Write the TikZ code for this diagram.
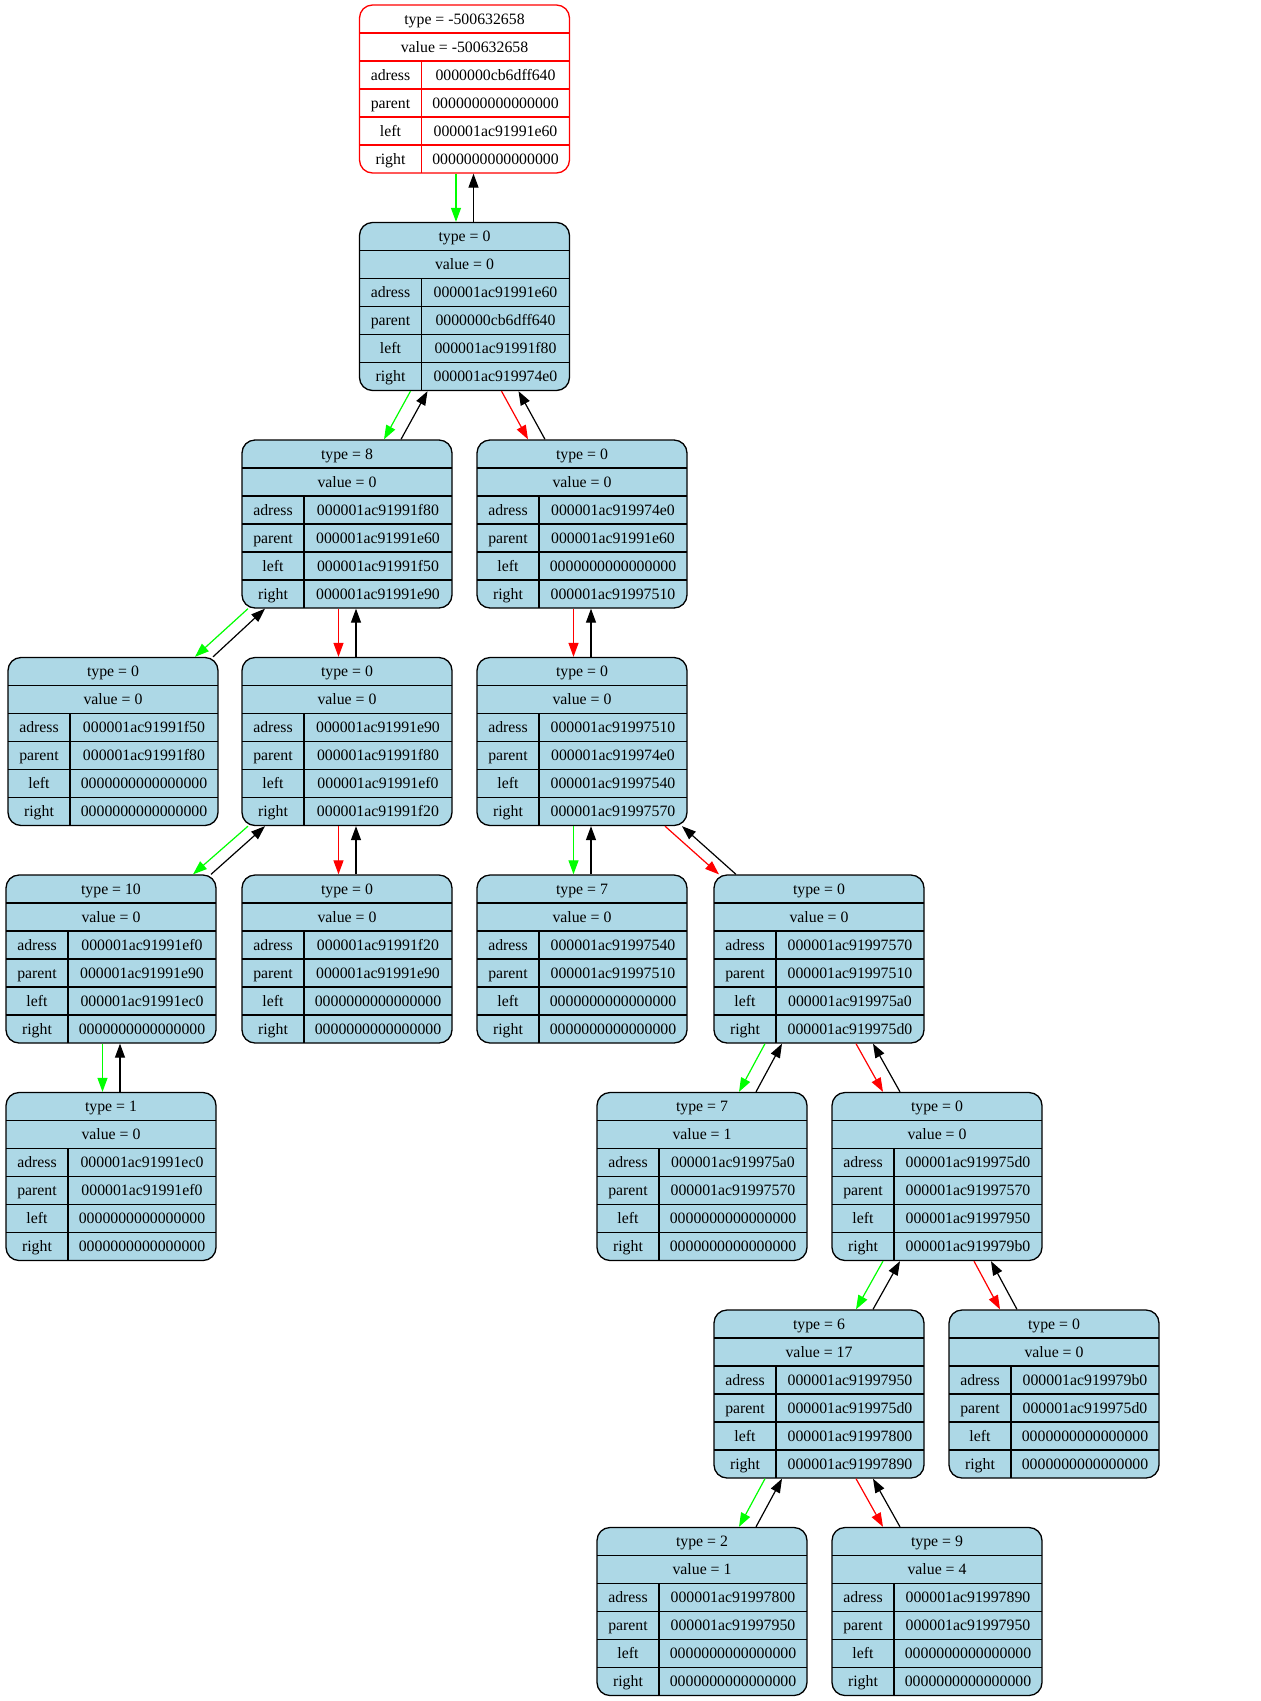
\documentclass[tikz,border=0pt]{standalone}
\usepackage{fontspec}
\setmainfont{Liberation Serif}
\usepackage{array}
\usetikzlibrary{arrows.meta}

\definecolor{lightblue}{HTML}{ADD8E6}

\newcolumntype{L}{>{\centering\arraybackslash}p{62pt}}
\newcolumntype{R}{>{\centering\arraybackslash}p{148pt}}
\newcommand{\rowstrut}{\rule[-9pt]{0pt}{28pt}}
\newcommand{\recordtext}[6]{\begin{tabular}{@{}L@{}R@{}}
\multicolumn{2}{@{}c@{}}{\rowstrut type = #1}\\
\multicolumn{2}{@{}c@{}}{\rowstrut value = #2}\\
\rowstrut adress & #3\\
\rowstrut parent & #4\\
\rowstrut left & #5\\
\rowstrut right & #6
\end{tabular}}
\newcommand{\recordgrid}[1]{%
\foreach \row in {28,56,84,112,140}
  \draw[#1, line width=1.3pt] ([yshift=-\row]path picture bounding box.north west) -- ([yshift=-\row]path picture bounding box.north east);
\draw[#1, line width=1.3pt] ([xshift=62, yshift=-56]path picture bounding box.north west) -- ([xshift=62]path picture bounding box.south west);}

\tikzstyle{record} = [rectangle, 
rounded corners=13pt, 
draw=black, 
fill=lightblue, 
line width=1.3pt, 
inner sep=0pt, 
font=\fontsize{15.8pt}{18pt}\selectfont, 
path picture={\recordgrid{black}}]
\tikzstyle{headrecord} = [record, draw=red, fill=white, path picture={\recordgrid{red}}]
\tikzstyle{leftlink} = [draw=green, line width=1.2pt, -{Triangle[length=14pt, width=10pt]}]
\tikzstyle{rightlink} = [leftlink, draw=red]
\tikzstyle{uplink} = [leftlink, draw=black]

\begin{document}
\begin{tikzpicture}[x=1pt, y=1pt, node distance=217.5pt]
\useasboundingbox (0,0) rectangle (1261,-1701);

\node (head) [headrecord] at (464.5,-89) {\recordtext{-500632658}{-500632658}{0000000cb6dff640}{0000000000000000}{000001ac91991e60}{0000000000000000}};
\node (ne60) [record, below of=head] {\recordtext{0}{0}{000001ac91991e60}{0000000cb6dff640}{000001ac91991f80}{000001ac919974e0}};
\draw[leftlink] ([xshift=-8.5]head.south) to ([xshift=-8.5]ne60.north);
\draw[uplink] ([xshift=9]ne60.north) to ([xshift=9]head.south);

\node (nf80) [record, below of=ne60, xshift=-117.5pt] {\recordtext{8}{0}{000001ac91991f80}{000001ac91991e60}{000001ac91991f50}{000001ac91991e90}};
\draw[leftlink] ([xshift=-54]ne60.south) to ([xshift=37]nf80.north);
\draw[uplink] ([xshift=54]nf80.north) to ([xshift=-37]ne60.south);

\node (n74e0) [record, below of=ne60, xshift=117.5pt] {\recordtext{0}{0}{000001ac919974e0}{000001ac91991e60}{0000000000000000}{000001ac91997510}};
\draw[rightlink] ([xshift=37]ne60.south) to ([xshift=-54]n74e0.north);
\draw[uplink] ([xshift=-37]n74e0.north) to ([xshift=54]ne60.south);

\node (nf50) [record, below of=nf80, xshift=-234pt] {\recordtext{0}{0}{000001ac91991f50}{000001ac91991f80}{0000000000000000}{0000000000000000}};
\draw[leftlink] ([xshift=-99]nf80.south) to ([xshift=82]nf50.north);
\draw[uplink] ([xshift=100]nf50.north) to ([xshift=-82]nf80.south);

\node (ne90) [record, below of=nf80] {\recordtext{0}{0}{000001ac91991e90}{000001ac91991f80}{000001ac91991ef0}{000001ac91991f20}};
\draw[rightlink] ([xshift=-8.5]nf80.south) to ([xshift=-8.5]ne90.north);
\draw[uplink] ([xshift=9]ne90.north) to ([xshift=9]nf80.south);

\node (n7510) [record, below of=n74e0] {\recordtext{0}{0}{000001ac91997510}{000001ac919974e0}{000001ac91997540}{000001ac91997570}};
\draw[rightlink] ([xshift=-8.5]n74e0.south) to ([xshift=-8.5]n7510.north);
\draw[uplink] ([xshift=9]n7510.north) to ([xshift=9]n74e0.south);

\node (nef0) [record, below of=ne90, xshift=-236pt] {\recordtext{10}{0}{000001ac91991ef0}{000001ac91991e90}{000001ac91991ec0}{0000000000000000}};
\draw[leftlink] ([xshift=-99]ne90.south) to ([xshift=82]nef0.north);
\draw[uplink] ([xshift=100]nef0.north) to ([xshift=-82]ne90.south);

\node (nf20) [record, below of=ne90] {\recordtext{0}{0}{000001ac91991f20}{000001ac91991e90}{0000000000000000}{0000000000000000}};
\draw[rightlink] ([xshift=-8.5]ne90.south) to ([xshift=-8.5]nf20.north);
\draw[uplink] ([xshift=9]nf20.north) to ([xshift=9]ne90.south);

\node (n7540) [record, below of=n7510] {\recordtext{7}{0}{000001ac91997540}{000001ac91997510}{0000000000000000}{0000000000000000}};
\draw[leftlink] ([xshift=-8.5]n7510.south) to ([xshift=-8.5]n7540.north);
\draw[uplink] ([xshift=9]n7540.north) to ([xshift=9]n7510.south);

\node (n7570) [record, below of=n7510, xshift=237pt] {\recordtext{0}{0}{000001ac91997570}{000001ac91997510}{000001ac919975a0}{000001ac919975d0}};
\draw[rightlink] ([xshift=83]n7510.south) to ([xshift=-100]n7570.north);
\draw[uplink] ([xshift=-83]n7570.north) to ([xshift=100]n7510.south);

\node (nec0) [record, below of=nef0] {\recordtext{1}{0}{000001ac91991ec0}{000001ac91991ef0}{0000000000000000}{0000000000000000}};
\draw[leftlink] ([xshift=-8.5]nef0.south) to ([xshift=-8.5]nec0.north);
\draw[uplink] ([xshift=9]nec0.north) to ([xshift=9]nef0.south);

\node (n75a0) [record, below of=n7570, xshift=-117pt] {\recordtext{7}{1}{000001ac919975a0}{000001ac91997570}{0000000000000000}{0000000000000000}};
\draw[leftlink] ([xshift=-54]n7570.south) to ([xshift=37]n75a0.north);
\draw[uplink] ([xshift=54]n75a0.north) to ([xshift=-37]n7570.south);

\node (n75d0) [record, below of=n7570, xshift=118pt] {\recordtext{0}{0}{000001ac919975d0}{000001ac91997570}{000001ac91997950}{000001ac919979b0}};
\draw[rightlink] ([xshift=37]n7570.south) to ([xshift=-54]n75d0.north);
\draw[uplink] ([xshift=-37]n75d0.north) to ([xshift=54]n7570.south);

\node (n7950) [record, below of=n75d0, xshift=-118pt] {\recordtext{6}{17}{000001ac91997950}{000001ac919975d0}{000001ac91997800}{000001ac91997890}};
\draw[leftlink] ([xshift=-54]n75d0.south) to ([xshift=37]n7950.north);
\draw[uplink] ([xshift=54]n7950.north) to ([xshift=-37]n75d0.south);

\node (n79b0) [record, below of=n75d0, xshift=117pt] {\recordtext{0}{0}{000001ac919979b0}{000001ac919975d0}{0000000000000000}{0000000000000000}};
\draw[rightlink] ([xshift=37]n75d0.south) to ([xshift=-54]n79b0.north);
\draw[uplink] ([xshift=-37]n79b0.north) to ([xshift=54]n75d0.south);

\node (n7800) [record, below of=n7950, xshift=-117pt] {\recordtext{2}{1}{000001ac91997800}{000001ac91997950}{0000000000000000}{0000000000000000}};
\draw[leftlink] ([xshift=-54]n7950.south) to ([xshift=37]n7800.north);
\draw[uplink] ([xshift=54]n7800.north) to ([xshift=-37]n7950.south);

\node (n7890) [record, below of=n7950, xshift=118pt] {\recordtext{9}{4}{000001ac91997890}{000001ac91997950}{0000000000000000}{0000000000000000}};
\draw[rightlink] ([xshift=37]n7950.south) to ([xshift=-54]n7890.north);
\draw[uplink] ([xshift=-37]n7890.north) to ([xshift=54]n7950.south);

\end{tikzpicture}
\end{document}
